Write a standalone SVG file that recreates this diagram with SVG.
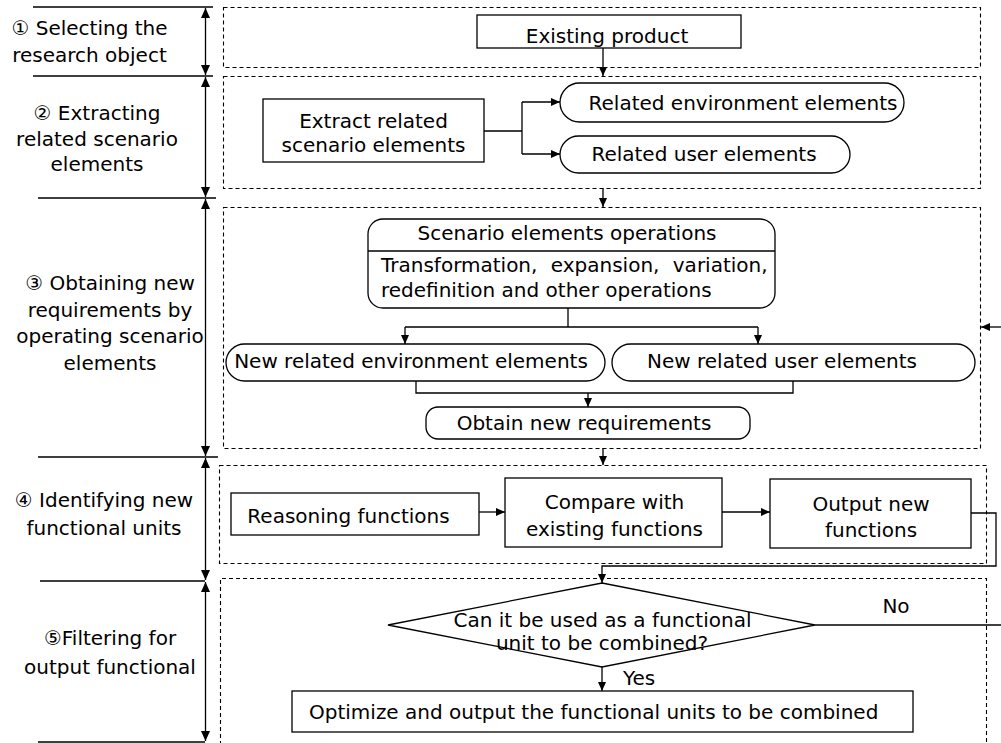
<svg xmlns="http://www.w3.org/2000/svg" width="1001" height="743" viewBox="0 0 1001 743">
<style>
  .bg{fill:#fff}
  .box{fill:#fff;stroke:#000;stroke-width:1.3}
  .dash{fill:none;stroke:#000;stroke-width:1.1;stroke-dasharray:4,3}
  .ln{fill:none;stroke:#000;stroke-width:1.3}
  .arr{fill:none;stroke:#000;stroke-width:1.3;marker-end:url(#ah)}
  .dbl{fill:none;stroke:#000;stroke-width:1.3;marker-start:url(#bh);marker-end:url(#bh)}
  .t{font-family:"DejaVu Sans","Noto Sans CJK SC",sans-serif;font-size:20px;fill:#000}
  .l{font-family:"DejaVu Sans","Noto Sans CJK SC",sans-serif;font-size:20px;fill:#000;text-anchor:middle}
  .c{text-anchor:middle}
</style>
<defs>
  <marker id="ah" markerUnits="userSpaceOnUse" markerWidth="10" markerHeight="9" refX="9" refY="4" orient="auto">
    <path d="M0,0 L9,4 L0,8 z" fill="#000"/>
  </marker>
  <marker id="bh" markerUnits="userSpaceOnUse" markerWidth="11" markerHeight="10" refX="10" refY="4.5" orient="auto-start-reverse">
    <path d="M0,0 L10,4.5 L0,9 z" fill="#000"/>
  </marker>
</defs>
<rect class="bg" x="0" y="0" width="1001" height="743"/>

<g id="stages">
  <path class="ln" d="M33,7 H213 M33,76 H213 M38,198 H216 M38,457 H218 M40,581 H205 M38,742 H205"/>
  <path class="dbl" d="M205.5,8 V75"/>
  <path class="dbl" d="M205.5,77 V197"/>
  <path class="dbl" d="M205.5,199 V456"/>
  <path class="dbl" d="M205.5,458 V580"/>
  <path class="dbl" d="M205.5,582 V741"/>
  <text class="l" x="89.5" y="35">① Selecting the</text>
  <text class="l" x="89.5" y="62">research object</text>
  <text class="l" x="97" y="120">② Extracting</text>
  <text class="l" x="97" y="146">related scenario</text>
  <text class="l" x="97" y="171">elements</text>
  <text class="l" x="110" y="290">③ Obtaining new</text>
  <text class="l" x="110" y="317">requirements by</text>
  <text class="l" x="110" y="343">operating scenario</text>
  <text class="l" x="110" y="370">elements</text>
  <text class="l" x="104" y="507">④ Identifying new</text>
  <text class="l" x="104" y="535">functional units</text>
  <text class="l" x="110" y="645">⑤Filtering for</text>
  <text class="l" x="110" y="674">output functional</text>
</g>

<g id="frames">
  <rect class="dash" x="223.5" y="7.5" width="757" height="60"/>
  <rect class="dash" x="223.5" y="76.5" width="757" height="112"/>
  <rect class="dash" x="223.5" y="207.5" width="757" height="241"/>
  <rect class="dash" x="219.5" y="465.5" width="767" height="98"/>
  <path class="dash" d="M220.5,745 V578.5 H986.5 V745"/>
</g>

<g id="connectors">
  <path class="arr" d="M603,48 V76"/>
  <path class="ln" d="M484,131 H522 M522,102 V154"/>
  <path class="arr" d="M522,102 H560"/>
  <path class="arr" d="M522,154 H560"/>
  <path class="arr" d="M603,188 V207"/>
  <path class="ln" d="M568,308 V327 M405,327 H758"/>
  <path class="arr" d="M405,327 V344"/>
  <path class="arr" d="M758,327 V344"/>
  <path class="ln" d="M416,381 V393 H793 V381"/>
  <path class="arr" d="M588,393 V407"/>
  <path class="arr" d="M603,448 V465"/>
  <path class="arr" d="M479,512 H505"/>
  <path class="arr" d="M722,512 H770"/>
  <path class="arr" d="M971,513 H996 V566 H602 V583"/>
  <path class="arr" d="M602,667 V691"/>
  <path class="ln" d="M815,625 H1001"/>
  <path class="arr" d="M1001,327 H981"/>
  <text class="t" x="896" y="613" text-anchor="middle">No</text>
  <text class="t" x="623" y="685">Yes</text>
</g>

<g id="existing-product">
  <rect class="box" x="477" y="15" width="264" height="33"/>
  <text class="t c" x="607" y="43">Existing product</text>
</g>

<g id="extract">
  <rect class="box" x="263" y="99" width="221" height="63"/>
  <text class="t c" x="373.5" y="128">Extract related</text>
  <text class="t c" x="373.5" y="152">scenario elements</text>
</g>

<g id="related-env">
  <rect class="box" x="560" y="83" width="344" height="39" rx="19.5"/>
  <text class="t c" x="743" y="110">Related environment elements</text>
</g>

<g id="related-user">
  <rect class="box" x="560" y="136" width="290" height="37" rx="18.5"/>
  <text class="t c" x="704" y="161">Related user elements</text>
</g>

<g id="scenario-ops">
  <rect class="box" x="368" y="219" width="407" height="89" rx="15"/>
  <path class="ln" d="M368,251 H775"/>
  <text class="t c" x="567" y="240">Scenario elements operations</text>
  <text class="t" x="381" y="272" word-spacing="7">Transformation, expansion, variation,</text>
  <text class="t" x="381" y="297">redefinition and other operations</text>
</g>

<g id="new-env">
  <rect class="box" x="226" y="344" width="379" height="37" rx="18.5"/>
  <text class="t c" x="411" y="368">New related environment elements</text>
</g>

<g id="new-user">
  <rect class="box" x="612" y="344" width="363" height="37" rx="18.5"/>
  <text class="t c" x="782" y="368">New related user elements</text>
</g>

<g id="obtain">
  <rect class="box" x="426" y="407" width="324" height="32" rx="12"/>
  <text class="t c" x="584" y="430">Obtain new requirements</text>
</g>

<g id="reasoning">
  <rect class="box" x="231" y="493" width="248" height="42"/>
  <text class="t c" x="348.5" y="523">Reasoning functions</text>
</g>

<g id="compare">
  <rect class="box" x="505" y="478" width="217" height="69"/>
  <text class="t c" x="614.5" y="509">Compare with</text>
  <text class="t c" x="614.5" y="536">existing functions</text>
</g>

<g id="output">
  <rect class="box" x="770" y="479" width="201" height="69"/>
  <text class="t c" x="871" y="511">Output new</text>
  <text class="t c" x="871" y="537">functions</text>
</g>

<g id="decision">
  <polygon class="box" points="602,583 815,625 602,667 388,625"/>
  <text class="t c" x="602.5" y="627">Can it be used as a functional</text>
  <text class="t c" x="602" y="650">unit to be combined?</text>
</g>

<g id="optimize">
  <rect class="box" x="292" y="691" width="621" height="41"/>
  <text class="t" x="309" y="719">Optimize and output the functional units to be combined</text>
</g>
</svg>
